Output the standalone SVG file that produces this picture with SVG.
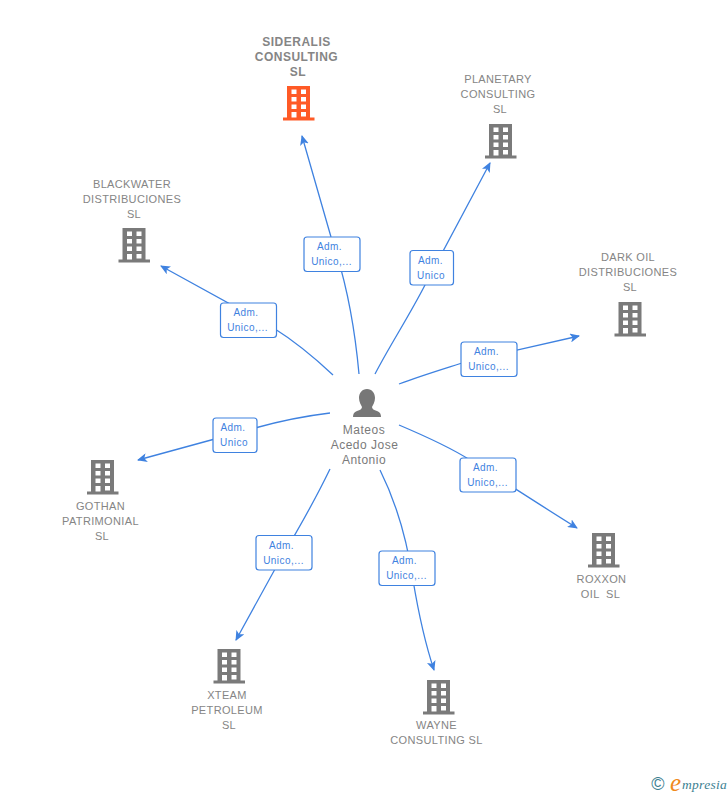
<svg xmlns="http://www.w3.org/2000/svg" xmlns:xlink="http://www.w3.org/1999/xlink" width="728" height="795" viewBox="0 0 728 795">
<style>
.n{font:11px "Liberation Sans",Arial,sans-serif;fill:#858585;text-anchor:middle;letter-spacing:.35px}
.s{font:bold 12px "Liberation Sans",Arial,sans-serif;fill:#858585;text-anchor:middle;letter-spacing:.5px}
.p{font:12px "Liberation Sans",Arial,sans-serif;fill:#7a7a7a;text-anchor:middle;letter-spacing:.5px}
.e{fill:none;stroke:#3f82e0;stroke-width:1.3}
.b{fill:#fff;stroke:#3f82e0;stroke-width:1.2}
.l{font:10px "Liberation Sans",Arial,sans-serif;fill:#3f82e0;text-anchor:middle;letter-spacing:.45px}
</style>
<defs>
<marker id="a" markerWidth="10" markerHeight="9" refX="9" refY="4.500" orient="auto" markerUnits="userSpaceOnUse"><path d="M0 0L10 4.500L0 9L2.500 4.500Z" fill="#3f82e0"/></marker>
<path id="bld" fill-rule="evenodd" d="M4 0H27V31.500H31.500V34.500H0V31.500H4ZM8.500 3.500V8H13.500V3.500ZM18 3.500V8H23V3.500ZM8.500 11V15.500H13.500V11ZM18 11V15.500H23V11ZM8.500 18.500V23H13.500V18.500ZM18 18.500V23H23V18.500ZM8.500 26V31.500H13.500V26ZM18 26V30.500H23V26Z"/>
</defs>
<rect width="728" height="795" fill="#fff"/>
<g id="connectors">
<path class="e" marker-end="url(#a)" d="M359 374C355 330 348 285 331 237L302 136"/>
<path class="e" marker-end="url(#a)" d="M375 374C390 345 408 318 425 285L490 163"/>
<path class="e" marker-end="url(#a)" d="M333 375C315 358 296 342 272 327L161 266"/>
<path class="e" marker-end="url(#a)" d="M399 384C420 376 440 370 465 362L579 336"/>
<path class="e" marker-end="url(#a)" d="M330 413C305 416 280 421 255 428L138 460"/>
<path class="e" marker-end="url(#a)" d="M399 425C425 436 448 446 470 460C505 482 540 505 577 528"/>
<path class="e" marker-end="url(#a)" d="M330 469C315 500 298 530 280 560L236 640"/>
<path class="e" marker-end="url(#a)" d="M380 470C395 500 407 540 413 580C418 610 424 640 434 670"/>
</g>
<g id="edge-labels">
<g><rect class="b" x="304" y="237" width="56" height="34.500" rx="3"/><text class="l" x="329.500" y="250">Adm.</text><text class="l" x="331.500" y="265">Unico,...</text></g>
<g><rect class="b" x="410" y="250.500" width="43.500" height="34.500" rx="3"/><text class="l" x="430.500" y="264">Adm.</text><text class="l" x="431" y="279">Unico</text></g>
<g><rect class="b" x="220.500" y="303" width="56" height="34.500" rx="3"/><text class="l" x="246" y="316">Adm.</text><text class="l" x="247.500" y="331">Unico,...</text></g>
<g><rect class="b" x="461" y="342" width="56" height="34.500" rx="3"/><text class="l" x="486.500" y="355">Adm.</text><text class="l" x="488.500" y="370">Unico,...</text></g>
<g><rect class="b" x="213" y="418" width="44" height="34.500" rx="3"/><text class="l" x="233" y="431">Adm.</text><text class="l" x="234" y="446">Unico</text></g>
<g><rect class="b" x="460" y="458" width="56" height="34" rx="3"/><text class="l" x="485.500" y="471">Adm.</text><text class="l" x="487.500" y="486">Unico,...</text></g>
<g><rect class="b" x="256" y="535.500" width="56" height="34.500" rx="3"/><text class="l" x="281.500" y="549">Adm.</text><text class="l" x="283.500" y="564">Unico,...</text></g>
<g><rect class="b" x="379" y="551" width="56" height="34.500" rx="3"/><text class="l" x="404.500" y="564">Adm.</text><text class="l" x="406.500" y="579">Unico,...</text></g>
</g>
<g id="person">
<path fill="#777" d="M367 389C372 389 375 393 375 398C375 402 373 405 372 407C372 409 374 410 377 411C380 412 381 414 381 417H353C353 414 354 412 357 411C360 410 362 409 362 407C361 405 359 402 359 398C359 393 362 389 367 389Z"/>
<text class="p" x="364" y="434">Mateos</text><text class="p" x="364.500" y="449">Acedo Jose</text><text class="p" x="364" y="464">Antonio</text>
</g>
<g id="sideralis"><use xlink:href="#bld" href="#bld" x="283" y="86" fill="#ff5a26"/><text class="s" x="296.500" y="46">SIDERALIS</text><text class="s" x="296.500" y="61">CONSULTING</text><text class="s" x="298" y="76">SL</text></g>
<g id="planetary"><use xlink:href="#bld" href="#bld" x="485" y="124" fill="#7a7a7a"/><text class="n" x="498" y="83">PLANETARY</text><text class="n" x="498" y="98">CONSULTING</text><text class="n" x="500" y="113">SL</text></g>
<g id="blackwater"><use xlink:href="#bld" href="#bld" x="118.500" y="228" fill="#7a7a7a"/><text class="n" x="132" y="188">BLACKWATER</text><text class="n" x="132" y="203">DISTRIBUCIONES</text><text class="n" x="134" y="218">SL</text></g>
<g id="darkoil"><use xlink:href="#bld" href="#bld" x="614.500" y="302" fill="#7a7a7a"/><text class="n" x="628" y="261">DARK OIL</text><text class="n" x="628" y="276">DISTRIBUCIONES</text><text class="n" x="630" y="291">SL</text></g>
<g id="gothan"><use xlink:href="#bld" href="#bld" x="87" y="460" fill="#7a7a7a"/><text class="n" x="100.500" y="510">GOTHAN</text><text class="n" x="100.500" y="525">PATRIMONIAL</text><text class="n" x="102" y="540">SL</text></g>
<g id="roxxon"><use xlink:href="#bld" href="#bld" x="588" y="533" fill="#7a7a7a"/><text class="n" x="601.500" y="583">ROXXON</text><text class="n" x="600.500" y="598" xml:space="preserve">OIL  SL</text></g>
<g id="xteam"><use xlink:href="#bld" href="#bld" x="213.500" y="649" fill="#7a7a7a"/><text class="n" x="227" y="699">XTEAM</text><text class="n" x="227" y="714">PETROLEUM</text><text class="n" x="229" y="729">SL</text></g>
<g id="wayne"><use xlink:href="#bld" href="#bld" x="423" y="680" fill="#7a7a7a"/><text class="n" x="436.500" y="729">WAYNE</text><text class="n" x="436.500" y="744">CONSULTING SL</text></g>
<g id="credit">
<text x="658" y="790" font-family="Liberation Sans, Arial, sans-serif" font-size="18" fill="#3d7f91" text-anchor="middle">©</text>
<text x="670" y="791" font-family="Liberation Serif, serif" font-style="italic" font-size="25" fill="#f08a1d">e</text>
<text x="682" y="789" font-family="Liberation Serif, serif" font-style="italic" font-size="13.500" fill="#3d7f91" letter-spacing=".3">mpresia</text>
</g>
</svg>
